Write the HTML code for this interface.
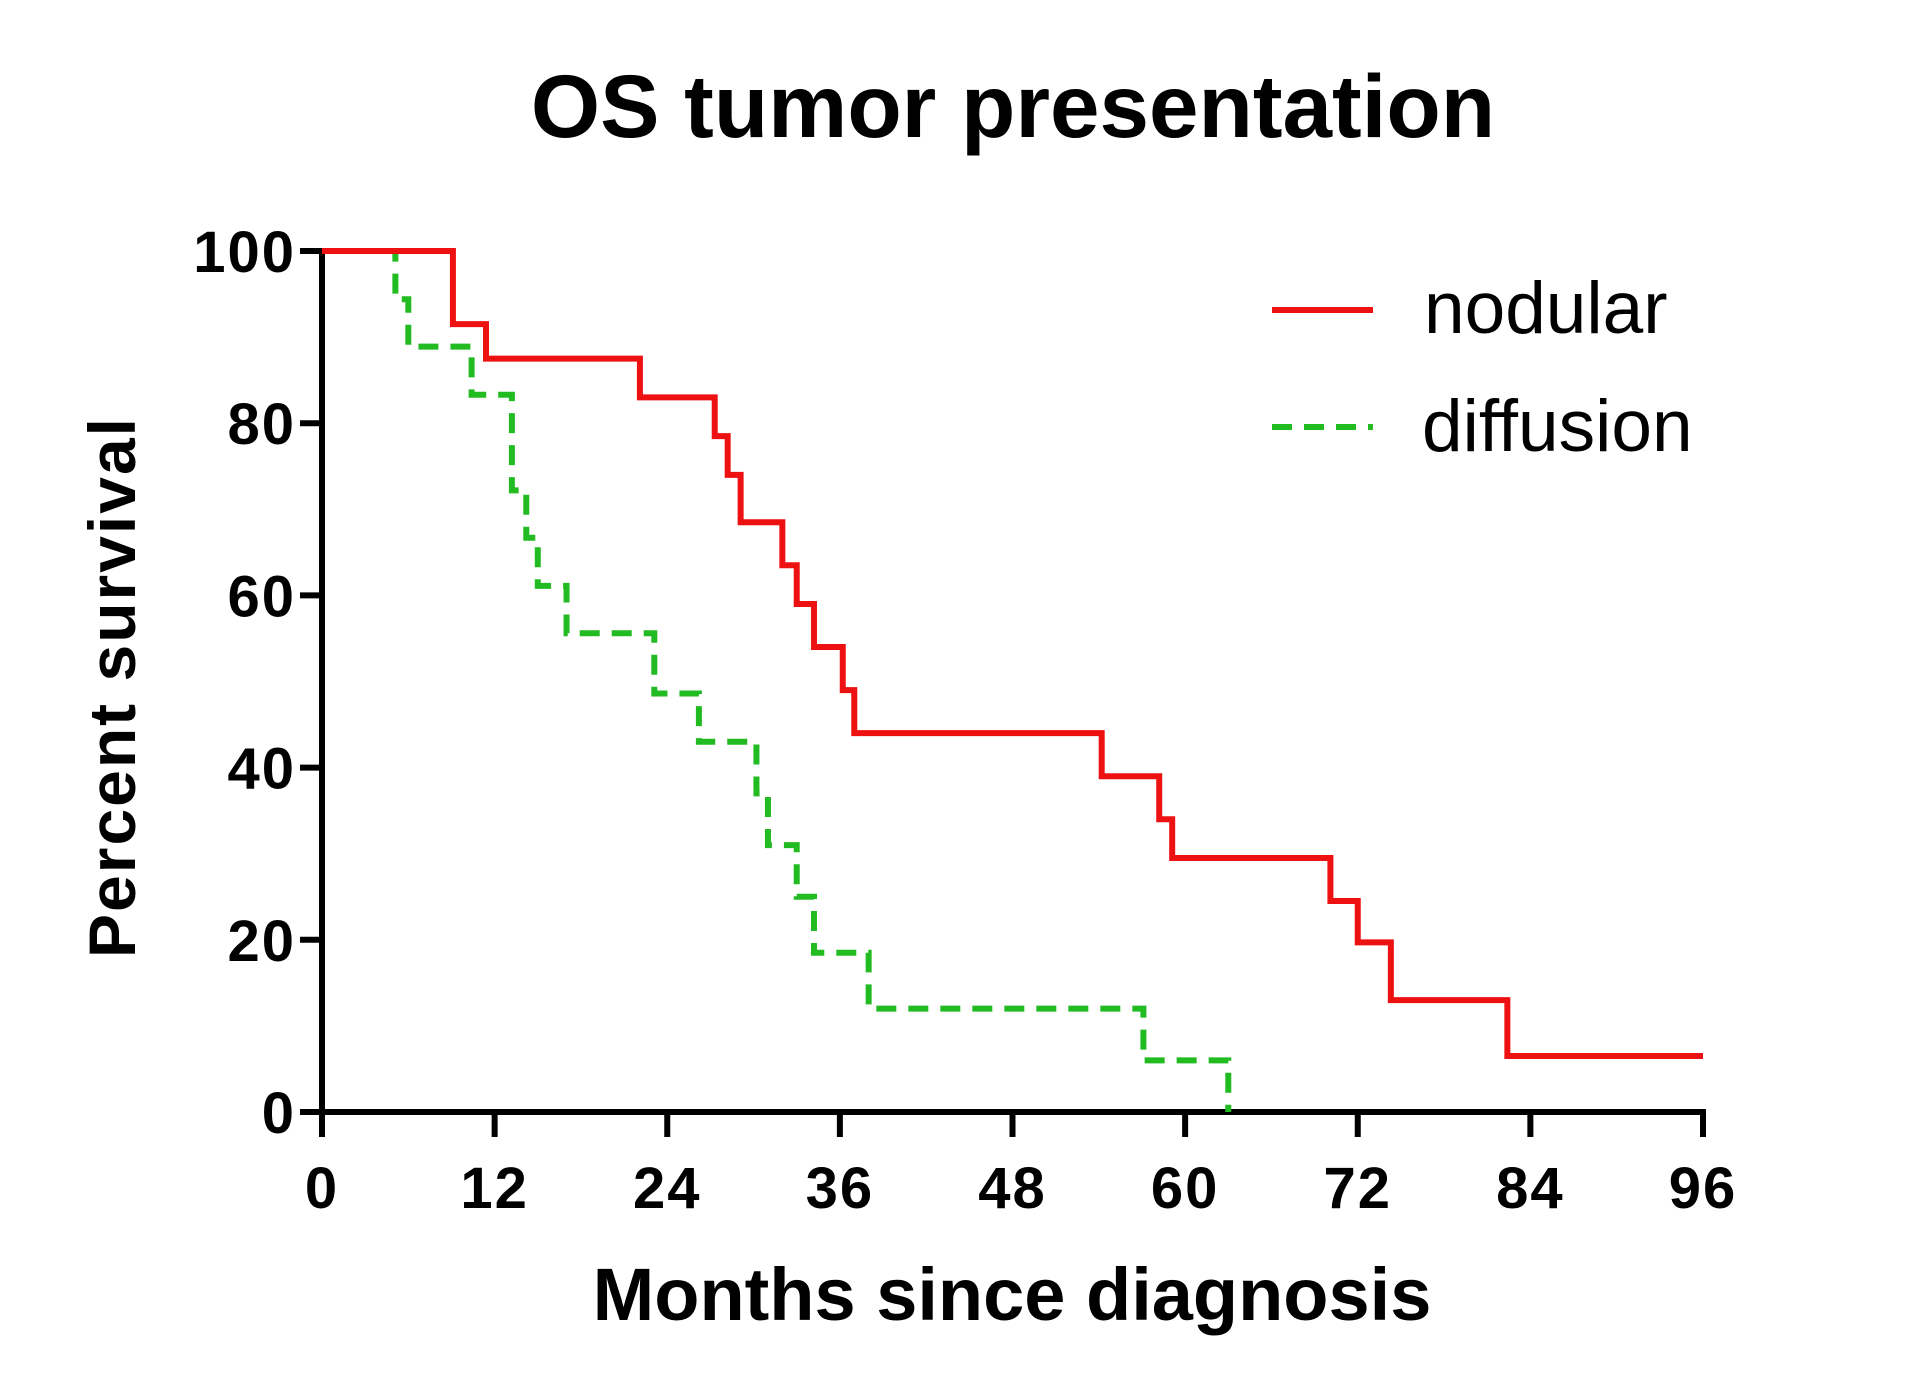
<!DOCTYPE html>
<html><head><meta charset="utf-8"><style>
html,body{margin:0;padding:0;background:#fff;}
svg{display:block;font-family:"Liberation Sans",sans-serif;}
</style></head><body>
<svg id="chart" width="1917" height="1383" viewBox="0 0 1917 1383">
<text x="1013" y="137" text-anchor="middle" font-size="89" font-weight="bold">OS tumor presentation</text>
<g id="axes"></g>
<g id="series"></g>
<text x="0" y="0" transform="translate(135,687) rotate(-90)" text-anchor="middle" font-size="66" font-weight="bold" letter-spacing="2">Percent survival</text>
<text x="1012" y="1320" text-anchor="middle" font-size="74" font-weight="bold">Months since diagnosis</text>
<g>
<line x1="1272" y1="310" x2="1373" y2="310" stroke="#ee1111" stroke-width="6"/>
<text x="1424" y="333" font-size="73">nodular</text>
<line x1="1272" y1="427" x2="1373" y2="427" stroke="#22bb22" stroke-width="6" stroke-dasharray="20,12"/>
<text x="1422" y="451" font-size="73">diffusion</text>
</g>
</svg>
<script>
const xTicks = [0,12,24,36,48,60,72,84,96];
const yTicks = [0,20,40,60,80,100];
const nodularTimes = [0,9.1,11.4,22.1,27.3,28.2,29.1,32,33,34.2,36.2,37,54.2,58.2,59.1,70.1,72,74.3,82.4,96];
const nodularSurv  = [100,91.5,87.5,83,78.5,74,68.5,63.5,59,54,49,44,39,34,29.5,24.5,19.7,13,6.5,6.5];
const diffusionTimes = [0,5.1,6,10.4,13.2,14.2,15,17,23.1,26.2,30.2,31,33,34.2,38,57.1,63];
const diffusionSurv  = [100,94.4,88.9,83.3,72.2,66.7,61.1,55.6,48.6,43,37,31,25,18.5,12,6,0];

const X0=322, X1=1703, Y0=1112, Y1=251;
const sx = m => X0 + (m/96)*(X1-X0);
const sy = p => Y0 - (p/100)*(Y0-Y1);
const NS='http://www.w3.org/2000/svg';
const axes=document.getElementById('axes');
const series=document.getElementById('series');
function mk(tag, attrs, parent){const e=document.createElementNS(NS,tag);for(const k in attrs)e.setAttribute(k,attrs[k]);parent.appendChild(e);return e;}

const xa=mk('line',{x1:X0,y1:Y0,x2:X1+3,y2:Y0,stroke:'#000','stroke-width':6},axes);


const ya=mk('line',{x1:X0,y1:Y0+3,x2:X0,y2:Y1-3,stroke:'#000','stroke-width':6},axes);



xTicks.forEach(t=>{
  const l=mk('line',{x1:sx(t),y1:Y0,x2:sx(t),y2:Y0+25,stroke:'#000','stroke-width':6},axes);
  
  
  const tx=mk('text',{x:sx(t),y:Y0+96,'text-anchor':'middle','font-size':58,'font-weight':'bold','letter-spacing':2},axes);
  tx.textContent=t;
  
  
});
yTicks.forEach(t=>{
  const l=mk('line',{x1:X0-22,y1:sy(t),x2:X0,y2:sy(t),stroke:'#000','stroke-width':6},axes);
  
  
  const tx=mk('text',{x:X0-26,y:sy(t)+21,'text-anchor':'end','font-size':58,'font-weight':'bold','letter-spacing':2},axes);
  tx.textContent=t;
  
  
});

function stepPath(ts, ss){
  let d='M'+sx(ts[0])+','+sy(ss[0]);
  for(let i=1;i<ts.length;i++){d+=' H'+sx(ts[i])+' V'+sy(ss[i]);}
  return d;
}
const g=mk('path',{d:stepPath(diffusionTimes,diffusionSurv),fill:'none',stroke:'#22bb22','stroke-width':6,'stroke-dasharray':'20,12'},series);


const r=mk('path',{d:stepPath(nodularTimes,nodularSurv),fill:'none',stroke:'#ee1111','stroke-width':6},series);


</script>
</body></html>
